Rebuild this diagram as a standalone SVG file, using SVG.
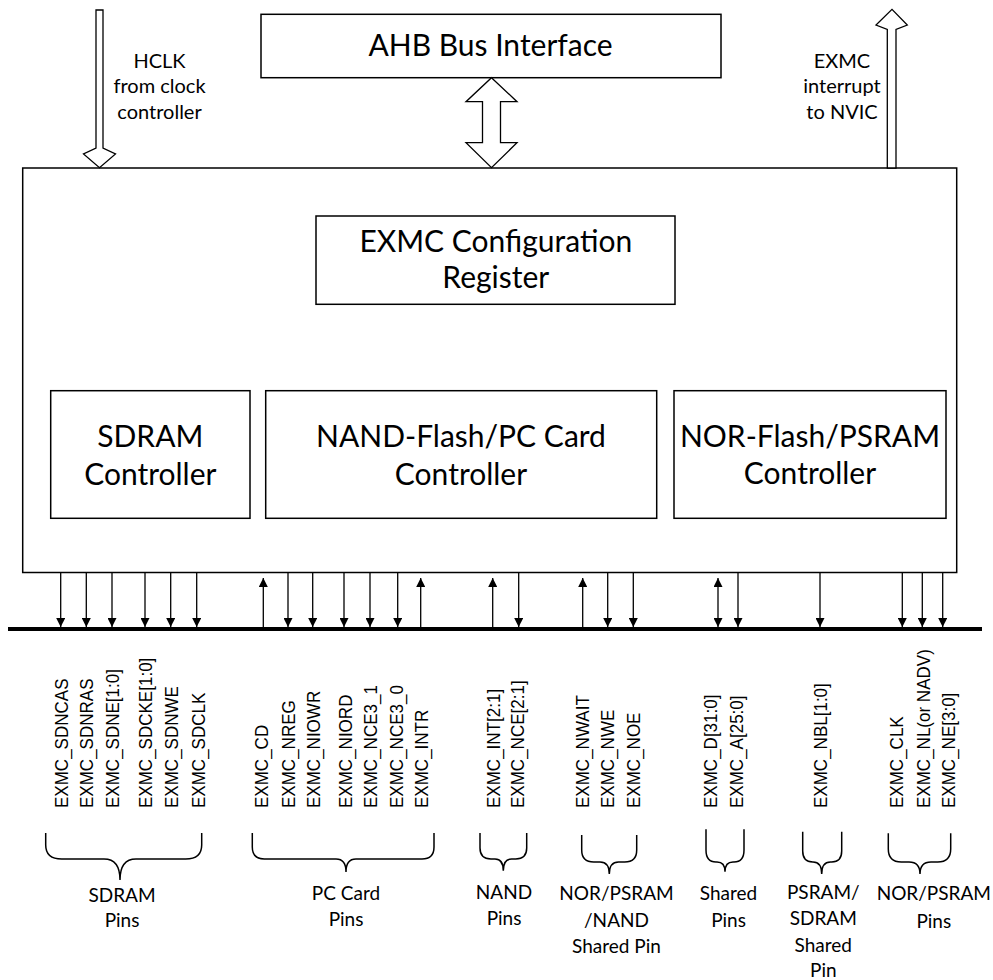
<svg xmlns="http://www.w3.org/2000/svg" width="993" height="980" viewBox="0 0 993 980">
<style>
.box{fill:#fff;stroke:#000;stroke-width:1.5}
.big{font-family:Lato,"Open Sans",sans-serif;font-size:30px;fill:#000;text-anchor:middle}
.sm{font-family:Lato,"Open Sans",sans-serif;font-size:20px;fill:#000;text-anchor:middle}
.lbl{font-family:Lato,"Open Sans",sans-serif;font-size:19px;fill:#000;text-anchor:middle}
.pin{font-family:"Liberation Sans",Arial,sans-serif;font-size:18.5px;fill:#000}
.wire{stroke:#000;stroke-width:1.3;fill:none}
.blk{fill:#fff;stroke:#000;stroke-width:1.3}
.brace{fill:none;stroke:#000;stroke-width:1.5}
</style>
<defs>
<marker id="ah" viewBox="0 0 10 10" refX="10" refY="5" markerWidth="9" markerHeight="9" markerUnits="userSpaceOnUse" orient="auto-start-reverse">
<path d="M0,0 L10,5 L0,10 z" fill="#000"/>
</marker>
</defs>
<rect width="993" height="980" fill="#fff"/>

<g id="main">
<rect class="box" x="22.7" y="168" width="934" height="404.5"/>
</g>

<g id="ahb">
<rect class="box" x="261" y="14.3" width="460" height="63.4"/>
<text class="big" x="490.5" y="55.7">AHB Bus Interface</text>
</g>

<g id="cfg">
<rect class="box" x="316" y="216" width="359" height="88.3"/>
<text class="big" x="495.8" y="251.7">EXMC Configuration</text>
<text class="big" x="495.8" y="288.3">Register</text>
</g>

<g id="sdram">
<rect class="box" x="50.7" y="390.7" width="199.3" height="127.6"/>
<text class="big" x="150.3" y="446.7">SDRAM</text>
<text class="big" x="150.3" y="485">Controller</text>
</g>

<g id="nand">
<rect class="box" x="265.7" y="390.7" width="391" height="127.6"/>
<text class="big" x="461" y="446.7">NAND-Flash/PC Card</text>
<text class="big" x="461" y="485">Controller</text>
</g>

<g id="nor">
<rect class="box" x="674" y="390.7" width="272" height="127.6"/>
<text class="big" x="810" y="446.7">NOR-Flash/PSRAM</text>
<text class="big" x="810" y="484">Controller</text>
</g>

<g id="hclk">
<polygon class="blk" points="96,10 103,10 103,148 115.5,154 99.5,167.7 83.5,154 96,148"/>
<text class="sm" x="159.5" y="68.3">HCLK</text>
<text class="sm" x="159.5" y="93.3">from clock</text>
<text class="sm" x="159.5" y="119">controller</text>
</g>

<g id="irq">
<polygon class="blk" points="887.3,168 887.3,29.5 876,25 892,9.3 907.3,25 896,29.5 896,168"/>
<text class="sm" x="842" y="68.3">EXMC</text>
<text class="sm" x="842" y="93.3">interrupt</text>
<text class="sm" x="842" y="119">to NVIC</text>
</g>

<g id="connectors">
<polygon class="blk" points="491.5,77.7 517,101.7 500.5,101.7 500.5,142.7 517,142.7 491.5,167.7 466,142.7 482.5,142.7 482.5,101.7 466,101.7"/>
<line x1="8" y1="629" x2="982" y2="629" stroke="#000" stroke-width="4"/>
<g class="wire" marker-end="url(#ah)">
<path d="M60.7,573V627"/>
<path d="M86.3,573V627"/>
<path d="M112,573V627"/>
<path d="M145,573V627"/>
<path d="M170.7,573V627"/>
<path d="M196.7,573V627"/>
<path d="M263.3,627V578"/>
<path d="M288,573V627"/>
<path d="M312.7,573V627"/>
<path d="M344,573V627"/>
<path d="M370,573V627"/>
<path d="M397.7,573V627"/>
<path d="M420.7,627V578"/>
<path d="M492.7,627V578"/>
<path d="M518.7,573V627"/>
<path d="M582.7,627V578"/>
<path d="M607.7,573V627"/>
<path d="M633.3,573V627"/>
<path d="M718,578V627" marker-start="url(#ah)"/>
<path d="M738,573V627"/>
<path d="M820,573V627"/>
<path d="M902.3,573V627"/>
<path d="M922.3,573V627"/>
<path d="M942.7,573V627"/>
</g>
</g>

<g id="pins-sdram">
<text class="pin" transform="translate(68.2,808) rotate(-90) scale(0.92,1)">EXMC_SDNCAS</text>
<text class="pin" transform="translate(93.2,808) rotate(-90) scale(0.92,1)">EXMC_SDNRAS</text>
<text class="pin" transform="translate(119.2,808) rotate(-90) scale(0.92,1)">EXMC_SDNE[1:0]</text>
<text class="pin" transform="translate(152.2,808) rotate(-90) scale(0.92,1)">EXMC_SDCKE[1:0]</text>
<text class="pin" transform="translate(178.2,808) rotate(-90) scale(0.92,1)">EXMC_SDNWE</text>
<text class="pin" transform="translate(204.9,808) rotate(-90) scale(0.92,1)">EXMC_SDCLK</text>
<path class="brace" d="M45.7,833V845Q45.7,859 61.7,859H104Q120,859 120,880Q120,859 136,859H185.7Q201.7,859 201.7,845V833"/>
<text class="lbl" x="122" y="901.7">SDRAM</text>
<text class="lbl" x="122" y="926.7">Pins</text>
</g>

<g id="pins-pccard">
<text class="pin" transform="translate(268.2,808) rotate(-90) scale(0.92,1)">EXMC_CD</text>
<text class="pin" transform="translate(294.9,808) rotate(-90) scale(0.92,1)">EXMC_NREG</text>
<text class="pin" transform="translate(319.9,808) rotate(-90) scale(0.92,1)">EXMC_NIOWR</text>
<text class="pin" transform="translate(351.5,808) rotate(-90) scale(0.92,1)">EXMC_NIORD</text>
<text class="pin" transform="translate(376.5,808) rotate(-90) scale(0.92,1)">EXMC_NCE3_1</text>
<text class="pin" transform="translate(403.2,808) rotate(-90) scale(0.92,1)">EXMC_NCE3_0</text>
<text class="pin" transform="translate(428.2,808) rotate(-90) scale(0.92,1)">EXMC_INTR</text>
<path class="brace" d="M252.3,833V847Q252.3,859 264.3,859H336Q346,859 346,872Q346,859 356,859H422Q434,859 434,847V833"/>
<text class="lbl" x="346" y="900">PC Card</text>
<text class="lbl" x="346" y="926">Pins</text>
</g>

<g id="pins-nand">
<text class="pin" transform="translate(499.9,808) rotate(-90) scale(0.92,1)">EXMC_INT[2:1]</text>
<text class="pin" transform="translate(523.9,808) rotate(-90) scale(0.92,1)">EXMC_NCE[2:1]</text>
<path class="brace" d="M480,833V848Q480,859 491,859H495Q503.3,859 503.3,870.7Q503.3,859 511.6,859H515.7Q526.7,859 526.7,848V833"/>
<text class="lbl" x="504" y="899">NAND</text>
<text class="lbl" x="504" y="925">Pins</text>
</g>

<g id="pins-shared3">
<text class="pin" transform="translate(589.2,808) rotate(-90) scale(0.92,1)">EXMC_NWAIT</text>
<text class="pin" transform="translate(614.2,808) rotate(-90) scale(0.92,1)">EXMC_NWE</text>
<text class="pin" transform="translate(639.9,808) rotate(-90) scale(0.92,1)">EXMC_NOE</text>
<path class="brace" d="M581.7,835V850Q581.7,862 593.7,862H600Q609.3,862 609.3,874Q609.3,862 618.6,862H624.7Q636.7,862 636.7,850V835"/>
<text class="lbl" x="616.5" y="900">NOR/PSRAM</text>
<text class="lbl" x="616.5" y="926.7">/NAND</text>
<text class="lbl" x="616.5" y="952.7">Shared Pin</text>
</g>

<g id="pins-shared">
<text class="pin" transform="translate(716.5,808) rotate(-90) scale(0.92,1)">EXMC_D[31:0]</text>
<text class="pin" transform="translate(743.2,808) rotate(-90) scale(0.92,1)">EXMC_A[25:0]</text>
<path class="brace" d="M706,829.3V850Q706,862 716,862H717Q725,862 725,871.7Q725,862 733,862H734Q744,862 744,850V829.3"/>
<text class="lbl" x="728.5" y="900">Shared</text>
<text class="lbl" x="728.5" y="926.7">Pins</text>
</g>

<g id="pins-psram-sdram">
<text class="pin" transform="translate(826.5,808) rotate(-90) scale(0.92,1)">EXMC_NBL[1:0]</text>
<path class="brace" d="M802.7,831.7V851Q802.7,862 812.7,862H813Q821.7,862 821.7,874Q821.7,862 830.4,862H831.7Q841.7,862 841.7,851V831.7"/>
<text class="lbl" x="823.3" y="899.3">PSRAM/</text>
<text class="lbl" x="823.3" y="925">SDRAM</text>
<text class="lbl" x="823.3" y="951.7">Shared</text>
<text class="lbl" x="823.3" y="976.7">Pin</text>
</g>

<g id="pins-nor">
<text class="pin" transform="translate(903.2,808) rotate(-90) scale(0.92,1)">EXMC_CLK</text>
<text class="pin" transform="translate(929.9,808) rotate(-90) scale(0.92,1)">EXMC_NL(or NADV)</text>
<text class="pin" transform="translate(954.9,808) rotate(-90) scale(0.92,1)">EXMC_NE[3:0]</text>
<path class="brace" d="M888.3,833.3V849Q888.3,862 901.3,862H909Q920,862 920,874Q920,862 931,862H937.7Q950.7,862 950.7,849V833.3"/>
<text class="lbl" x="933.8" y="900">NOR/PSRAM</text>
<text class="lbl" x="933.8" y="928.3">Pins</text>
</g>
</svg>
